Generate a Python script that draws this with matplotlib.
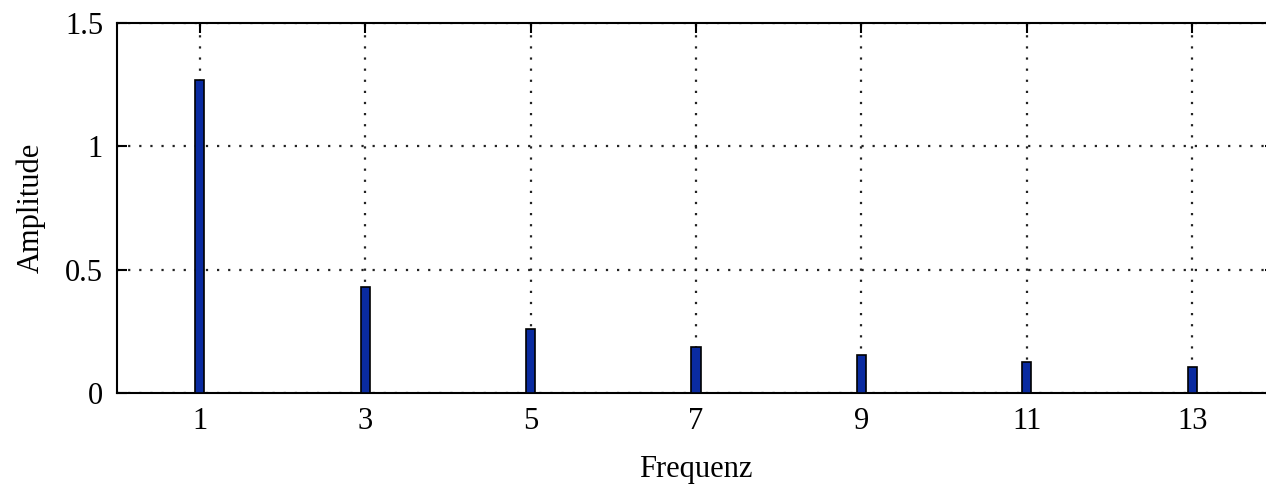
import matplotlib
matplotlib.use('Agg')
import matplotlib.pyplot as plt

# Amplitudenspektrum (ungerade Harmonische)
freq = [1, 3, 5, 7, 9, 11, 13]
amp = [1.27, 0.43, 0.26, 0.185, 0.155, 0.125, 0.105]
xticks = [1, 3, 5, 7, 9, 11, 13]
yticks = [0, 0.5, 1, 1.5]
ytick_labels = ['0', '0.5', '1', '1.5']

plt.rcParams['font.family'] = ['Liberation Serif', 'DejaVu Serif']

fig = plt.figure(figsize=(12.66, 4.97), dpi=100)
# Achse läuft rechts über den Bildrand hinaus
ax = fig.add_axes([117 / 1266, 104 / 497, 1158 / 1266, 370 / 497])

ax.bar(freq, amp, width=0.11, color='#0a2ba0', edgecolor='black', linewidth=1.2, zorder=3)

ax.set_xlim(0, 14)
ax.set_ylim(0, 1.5)
ax.set_xticks(xticks)
ax.set_yticks(yticks)
ax.set_yticklabels(ytick_labels)
ax.grid(True, color='#222222', linestyle=(0, (1, 4)), linewidth=1.6)
ax.tick_params(direction='in', top=True, right=True, length=7, width=1.5,
               labelsize=22, pad=10)
for s in ax.spines.values():
    s.set_linewidth(1.5)

ax.set_xlabel('Frequenz', fontsize=22, labelpad=14)
ax.set_ylabel('Amplitude', fontsize=22, labelpad=14)

fig.savefig('out.png', dpi=100)
